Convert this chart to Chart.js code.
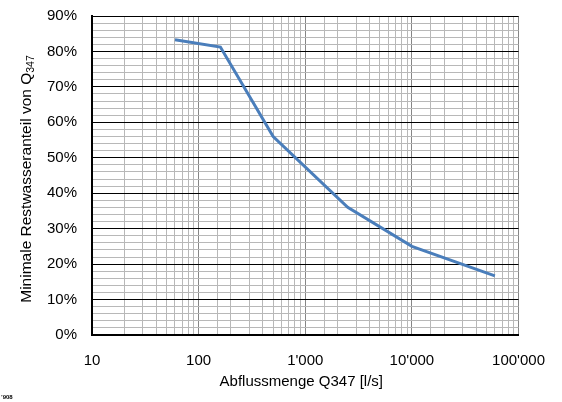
<!DOCTYPE html>
<html>
<head>
<meta charset="utf-8">
<script src="https://cdn.jsdelivr.net/npm/chart.js@4.4.1/dist/chart.umd.min.js"></script>
<style>
  html, body { margin: 0; padding: 0; background: #fff; }
</style>
</head>
<body>
<canvas id="restwasserChart" width="562" height="402"></canvas>
<script>
// Q347 [l/s] and minimal residual share [%]
const abflussmenge = [60, 160, 500, 2500, 10000, 60000];
const restwasserAnteil = [83.3, 81.25, 56, 36, 25, 16.7];
const xTickLabels = ['10', '100', "1'000", "10'000", "100'000"];
const yTickLabels = ['0%', '10%', '20%', '30%', '40%', '50%', '60%', '70%', '80%', '90%'];

const FONT = '"Liberation Sans", Arial, sans-serif';

function isDecade(v) {
    const l = Math.log10(v);
    return Math.abs(l - Math.round(l)) < 1e-9;
}

// axis titles drawn by hand so the subscript in Q347 works
const axisTitles = {
    id: 'axisTitles',
    afterDraw(chart) {
        const c = chart.ctx;
        const area = chart.chartArea;
        c.save();
        c.fillStyle = '#000';
        c.textBaseline = 'middle';

        c.font = '15px ' + FONT;
        c.textAlign = 'center';
        c.fillText('Abflussmenge Q347 [l/s]', (area.left + area.right) / 2 - 4, 382);

        c.translate(27, 179);
        c.rotate(-Math.PI / 2);
        const main = 'Minimale Restwasseranteil von Q';
        const sub = '347';
        c.font = '15.5px ' + FONT;
        const w1 = c.measureText(main).width;
        c.font = '10.5px ' + FONT;
        const w2 = c.measureText(sub).width;
        const x0 = -(w1 + w2) / 2;
        c.textAlign = 'left';
        c.font = '15.5px ' + FONT;
        c.fillText(main, x0, 0);
        c.font = '10.5px ' + FONT;
        c.fillText(sub, x0 + w1, 4);
        c.restore();

        c.save();
        c.font = 'bold 6px ' + FONT;
        c.fillStyle = '#000';
        c.textBaseline = 'middle';
        c.fillText('\u2019908', 1, 397);
        c.restore();
    }
};

const ctx = document.getElementById('restwasserChart').getContext('2d');
const restwasserChart = new Chart(ctx, {
    type: 'line',
    data: {
        datasets: [{
            data: abflussmenge.map((q, i) => ({ x: q, y: restwasserAnteil[i] })),
            borderColor: '#4a7ebb',
            borderWidth: 3,
            pointRadius: 0,
            tension: 0,
            fill: false
        }]
    },
    options: {
        responsive: false,
        animation: false,
        layout: {
            padding: { left: 0, right: 42, top: 16, bottom: 0 }
        },
        plugins: {
            legend: { display: false },
            tooltip: { enabled: false }
        },
        scales: {
            x: {
                type: 'logarithmic',
                min: 10,
                max: 100000,
                afterFit: (scale) => { scale.height = 67; },
                border: { color: '#000', width: 2 },
                grid: {
                    drawTicks: false,
                    color: (c) => isDecade(c.tick.value) ? '#868686' : '#b8b8b8'
                },
                ticks: {
                    autoSkip: false,
                    maxRotation: 0,
                    padding: 17,
                    color: '#000',
                    font: { family: FONT, size: 15 },
                    callback: (v) => isDecade(v) ? xTickLabels[Math.round(Math.log10(v)) - 1] : ''
                }
            },
            y: {
                min: 0,
                max: 90,
                afterFit: (scale) => {
                    scale.width = 92;
                    scale.paddingTop = 0;
                    scale.paddingBottom = 0;
                },
                border: { color: '#000', width: 2 },
                grid: {
                    drawTicks: false,
                    color: (c) => c.tick.value % 10 === 0 ? '#000' : '#b8b8b8'
                },
                ticks: {
                    stepSize: 2,
                    maxTicksLimit: 100,
                    autoSkip: false,
                    padding: 15,
                    color: '#000',
                    font: { family: FONT, size: 15 },
                    callback: (v) => v % 10 === 0 ? yTickLabels[v / 10] : ''
                }
            }
        }
    },
    plugins: [axisTitles]
});
</script>
</body>
</html>
